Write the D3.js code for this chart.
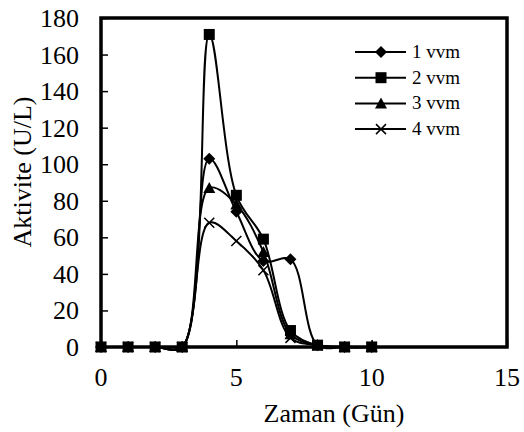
<!DOCTYPE html>
<meta charset="utf-8">
<style>
    body { margin: 0; background: #fff; }
    svg text { font-family: "Liberation Serif", "DejaVu Serif", "Times New Roman", serif; fill: #000; }
</style>
<svg width="524" height="432" font-family="Liberation Serif, serif"></svg>
<script src="https://d3js.org/d3.v7.min.js"></script>
<script>

    var days = [0, 1, 2, 3, 4, 5, 6, 7, 8, 9, 10];
    var vvm1 = [0, 0, 0, 0, 103, 74, 47, 48, 1, 0, 0];
    var vvm2 = [0, 0, 0, 0, 171, 83, 59, 9, 1, 0, 0];
    var vvm3 = [0, 0, 0, 0, 87, 78, 52, 7, 1, 0, 0];
    var vvm4 = [0, 0, 0, 0, 68, 58, 42, 5, 1, 0, 0];
    var seriesNames = ["1 vvm", "2 vvm", "3 vvm", "4 vvm"];
    var xTicks = [0, 5, 10, 15];
    var yTicks = [0, 20, 40, 60, 80, 100, 120, 140, 160, 180];

    var svg = d3.select("svg"),
        pLeft = 101, pRight = 507, pTop = 18, pBottom = 347;

    var x = d3.scaleLinear().domain([0, 15]).range([pLeft, pRight]);
    var y = d3.scaleLinear().domain([0, 180]).range([pBottom, pTop]);

    var series = [
        {name: seriesNames[0], vals: vvm1, sym: "diamond"},
        {name: seriesNames[1], vals: vvm2, sym: "square"},
        {name: seriesNames[2], vals: vvm3, sym: "triangle"},
        {name: seriesNames[3], vals: vvm4, sym: "cross"}
    ];

    function marker(g, sym) {
        if (sym === "diamond") {
            g.append("path").attr("d", "M0,-6L6,0L0,6L-6,0Z").attr("fill", "#000");
        } else if (sym === "square") {
            g.append("rect").attr("x", -5.5).attr("y", -5.5).attr("width", 11).attr("height", 11).attr("fill", "#000");
        } else if (sym === "triangle") {
            g.append("path").attr("d", "M0,-6L6,5L-6,5Z").attr("fill", "#000");
        } else {
            g.append("path").attr("d", "M-5,-5L5,5M5,-5L-5,5").attr("stroke", "#000").attr("stroke-width", 1.5);
        }
    }

    // frame
    svg.append("rect")
        .attr("x", pLeft).attr("y", pTop)
        .attr("width", pRight - pLeft).attr("height", pBottom - pTop)
        .attr("fill", "none").attr("stroke", "#000").attr("stroke-width", 3.5);

    // ticks inside
    var yAxis = d3.axisRight(y).tickValues(yTicks).tickSize(7).tickFormat("");
    svg.append("g").attr("transform", "translate(" + pLeft + ",0)").call(yAxis)
        .call(function(g) { g.select(".domain").remove(); })
        .selectAll("line").attr("stroke-width", 1.5);
    var xAxis = d3.axisTop(x).tickValues(xTicks).tickSize(7).tickFormat("");
    svg.append("g").attr("transform", "translate(0," + pBottom + ")").call(xAxis)
        .call(function(g) { g.select(".domain").remove(); })
        .selectAll("line").attr("stroke-width", 1.5);

    // tick labels
    svg.append("g").selectAll("text").data(yTicks).enter().append("text")
        .attr("x", 79).attr("y", function(d) { return y(d) + 9; })
        .attr("text-anchor", "end").attr("font-size", 26)
        .text(function(d) { return d; });
    svg.append("g").selectAll("text").data(xTicks).enter().append("text")
        .attr("x", function(d) { return x(d); }).attr("y", 386)
        .attr("text-anchor", "middle").attr("font-size", 26)
        .text(function(d) { return d; });

    svg.append("text").attr("x", 334).attr("y", 422)
        .attr("text-anchor", "middle").attr("font-size", 26).text("Zaman (Gün)");
    svg.append("text").attr("transform", "translate(31,172) rotate(-90)")
        .attr("text-anchor", "middle").attr("font-size", 26).text("Aktivite (U/L)");

    var line = d3.line()
        .x(function(d, i) { return x(days[i]); })
        .y(function(d) { return y(d); })
        .curve(d3.curveCatmullRom.alpha(0.5));

    // squares drawn last so they sit on top
    var order = [0, 2, 3, 1];
    order.forEach(function(k) {
        var s = series[k];
        svg.append("path").datum(s.vals)
            .attr("d", line).attr("fill", "none")
            .attr("stroke", "#000").attr("stroke-width", 2);
    });
    order.forEach(function(k) {
        var s = series[k];
        s.vals.forEach(function(v, i) {
            var g = svg.append("g").attr("transform", "translate(" + x(days[i]) + "," + y(v) + ")");
            marker(g, s.sym);
        });
    });

    // legend
    var legend = svg.append("g");
    series.forEach(function(s, i) {
        var ly = 52 + i * 25.7;
        legend.append("line").attr("x1", 355).attr("x2", 406).attr("y1", ly).attr("y2", ly)
            .attr("stroke", "#000").attr("stroke-width", 2);
        var g = legend.append("g").attr("transform", "translate(381," + ly + ")");
        marker(g, s.sym);
        legend.append("text").attr("x", 412).attr("y", ly + 6)
            .attr("font-size", 19).text(s.name);
    });

</script>
